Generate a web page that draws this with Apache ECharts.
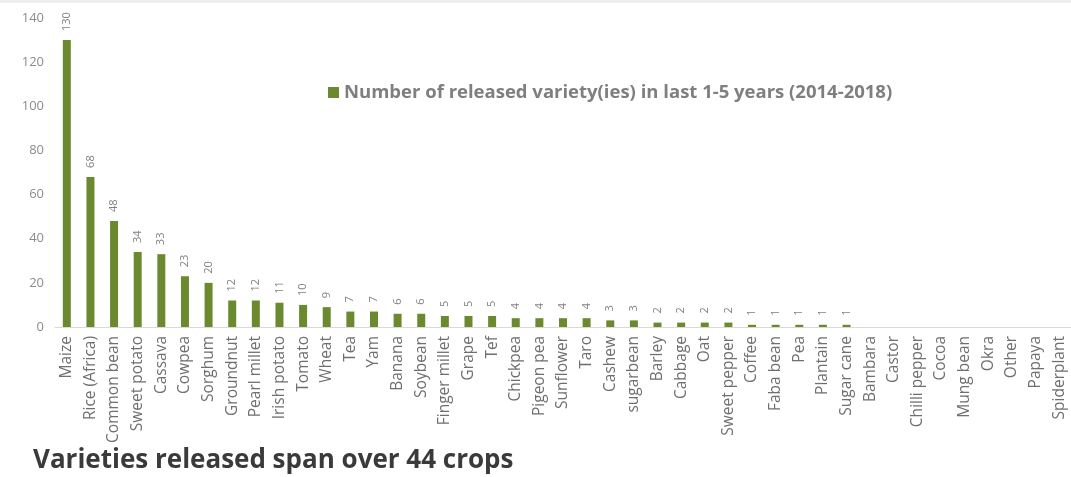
<!DOCTYPE html>
<html>
<head>
<meta charset="utf-8">
<script src="https://cdn.jsdelivr.net/npm/echarts@6/dist/echarts.min.js"></script>
<style>
  html, body { margin: 0; padding: 0; background: #fff; }
  #chart { width: 1071px; height: 477px; }
</style>
</head>
<body>
<div id="chart"></div>
<script>
// Crops, sorted by number of varieties released
const crops = [
  'Maize', 'Rice (Africa)', 'Common bean', 'Sweet potato', 'Cassava', 'Cowpea',
  'Sorghum', 'Groundnut', 'Pearl millet', 'Irish potato', 'Tomato', 'Wheat',
  'Tea', 'Yam', 'Banana', 'Soybean', 'Finger millet', 'Grape', 'Tef',
  'Chickpea', 'Pigeon pea', 'Sunflower', 'Taro', 'Cashew', 'sugarbean',
  'Barley', 'Cabbage', 'Oat', 'Sweet pepper', 'Coffee', 'Faba bean', 'Pea',
  'Plantain', 'Sugar cane', 'Bambara', 'Castor', 'Chilli pepper', 'Cocoa',
  'Mung bean', 'Okra', 'Other', 'Papaya', 'Spiderplant'
];

// Number of varieties released per crop, 2014-2018
const released = [
  130, 68, 48, 34, 33, 23,
  20, 12, 12, 11, 10, 9,
  7, 7, 6, 6, 5, 5, 5,
  4, 4, 4, 4, 3, 3,
  2, 2, 2, 2, 1, 1, 1,
  1, 1, 0, 0, 0, 0,
  0, 0, 0, 0, 0
];

const seriesName = 'Number of released variety(ies) in last 1-5 years (2014-2018)';
const yTicks = { min: 0, max: 140, interval: 20 };

const FONT = '"Open Sans", "Noto Sans", sans-serif';
const chart = echarts.init(document.getElementById('chart'));

chart.setOption({
  backgroundColor: '#ffffff',
  animation: false,
  textStyle: { fontFamily: FONT },
  title: {
    text: 'Varieties released span over 44 crops',
    left: 28,
    top: 443,
    textStyle: { fontFamily: FONT, fontSize: 26, fontWeight: 'bold', color: '#3a3a3a' }
  },
  legend: {
    left: 323,
    top: 78,
    itemWidth: 11,
    itemHeight: 11,
    itemGap: 6,
    icon: 'rect',
    textStyle: { fontFamily: FONT, fontSize: 18.5, fontWeight: 'bold', color: '#7f7f7f' },
    data: [seriesName]
  },
  graphic: [{
    type: 'rect',
    shape: { x: 0, y: 0, width: 1071, height: 3 },
    style: { fill: '#eeeeee' },
    silent: true
  }],
  grid: { left: 55, right: -8, top: 18, bottom: 150, containLabel: false },
  xAxis: {
    type: 'category',
    data: crops,
    axisLine: { lineStyle: { color: '#d9d9d9', width: 1 } },
    axisTick: { show: false },
    axisLabel: {
      rotate: 90,
      interval: 0,
      margin: 9,
      fontFamily: FONT,
      fontSize: 15.5,
      color: '#6f6f6f'
    }
  },
  yAxis: {
    type: 'value',
    min: yTicks.min,
    max: yTicks.max,
    interval: yTicks.interval,
    axisLine: { show: false },
    axisTick: { show: false },
    splitLine: { show: false },
    axisLabel: { fontFamily: FONT, fontSize: 13, color: '#8c8c8c', margin: 11 }
  },
  series: [{
    name: seriesName,
    type: 'bar',
    data: released,
    barWidth: 8,
    itemStyle: { color: '#6b8a2f' },
    label: {
      show: true,
      position: 'top',
      rotate: 90,
      align: 'left',
      verticalAlign: 'middle',
      distance: 9,
      fontFamily: FONT,
      fontSize: 11,
      color: '#808080',
      formatter: p => (p.value > 0 ? String(p.value) : '')
    }
  }]
});
</script>
</body>
</html>
